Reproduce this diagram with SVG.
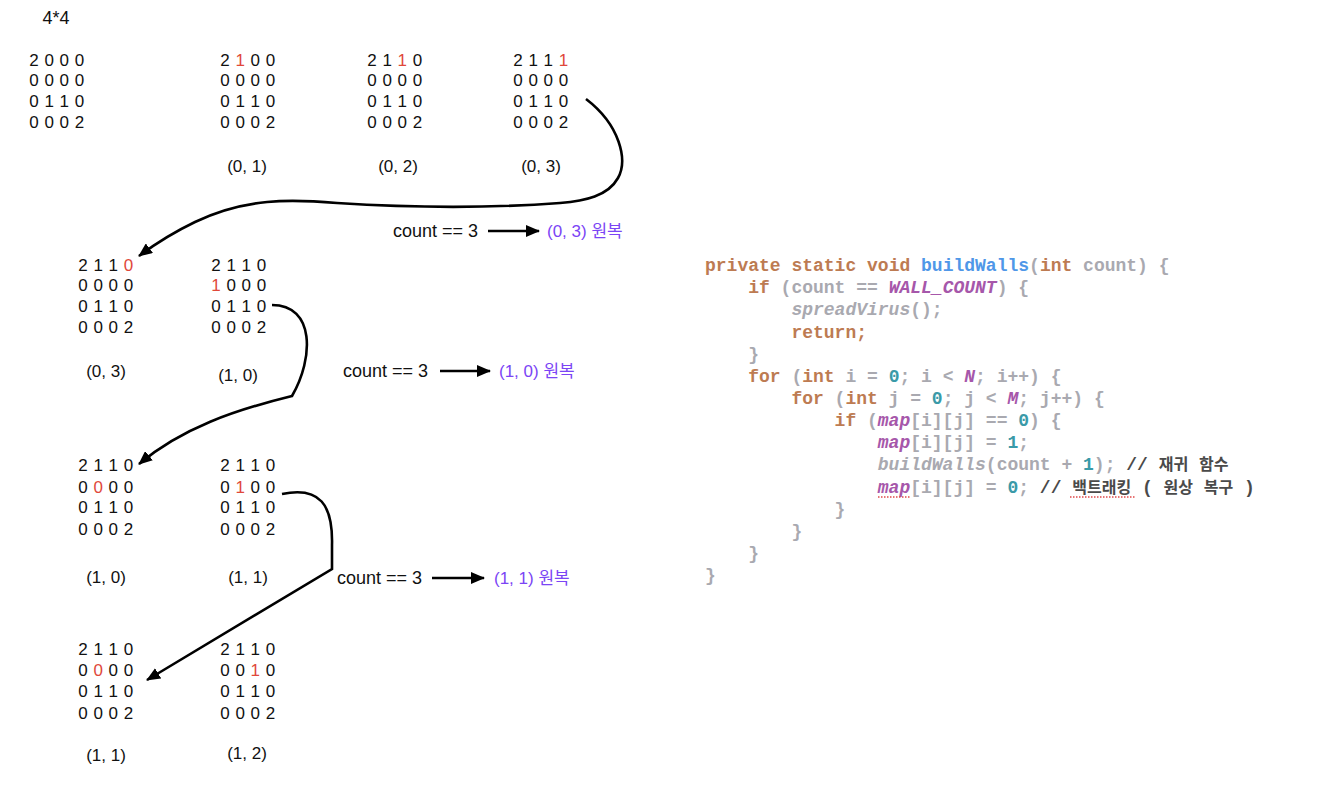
<svg xmlns="http://www.w3.org/2000/svg" width="1330" height="800" viewBox="0 0 1330 800">
<style>
.m{font-family:"Liberation Sans",Arial,sans-serif;font-size:17px;fill:#111;text-anchor:middle;letter-spacing:0.5px}
.lb{font-family:"Liberation Sans",Arial,sans-serif;font-size:17px;fill:#111;text-anchor:middle}
.r{fill:#e0483a}
.cnt{font-family:"Liberation Sans",Arial,sans-serif;font-size:18px;fill:#111}
.pu{font-family:"Liberation Sans","Noto Sans CJK KR",sans-serif;font-size:17px;fill:#7b45f5}
.code{font-family:"Liberation Mono","Courier New",monospace;font-size:18px;font-weight:bold;white-space:pre}
.k{fill:#bd7b52}
.f{fill:#4f97e8}
.g{fill:#a9a9b0}
.it{fill:#a9a9b0;font-style:italic}
.p{fill:#a657aa;font-style:italic}
.n{fill:#3a9aa8}
.c{fill:#4a4a4a}
.ko{font-family:"Noto Sans CJK KR",sans-serif;font-size:16px;fill:#4a4a4a}
.conn path,.conn line{fill:none;stroke:#000;stroke-width:2.6}
</style>
<defs>
<marker id="ah" viewBox="0 0 14 12" refX="13" refY="6" markerWidth="14" markerHeight="12" markerUnits="userSpaceOnUse" orient="auto">
<path d="M0,0 L14,6 L0,12 z" fill="#000"/>
</marker>
</defs>
<rect width="1330" height="800" fill="#fff"/>

<text x="56" y="24" class="lb" style="font-size:18px">4*4</text>

<g id="m0">
<text class="m" x="57" y="66">2 0 0 0</text>
<text class="m" x="57" y="86">0 0 0 0</text>
<text class="m" x="57" y="107">0 1 1 0</text>
<text class="m" x="57" y="128">0 0 0 2</text>
</g>
<g id="m01">
<text class="m" x="248" y="66">2 <tspan class="r">1</tspan> 0 0</text>
<text class="m" x="248" y="86">0 0 0 0</text>
<text class="m" x="248" y="107">0 1 1 0</text>
<text class="m" x="248" y="128">0 0 0 2</text>
<text class="lb" x="247" y="172">(0, 1)</text>
</g>
<g id="m02">
<text class="m" x="395" y="66">2 1 <tspan class="r">1</tspan> 0</text>
<text class="m" x="395" y="86">0 0 0 0</text>
<text class="m" x="395" y="107">0 1 1 0</text>
<text class="m" x="395" y="128">0 0 0 2</text>
<text class="lb" x="398" y="172">(0, 2)</text>
</g>
<g id="m03">
<text class="m" x="541" y="66">2 1 1 <tspan class="r">1</tspan></text>
<text class="m" x="541" y="86">0 0 0 0</text>
<text class="m" x="541" y="107">0 1 1 0</text>
<text class="m" x="541" y="128">0 0 0 2</text>
<text class="lb" x="541" y="172">(0, 3)</text>
</g>

<g id="m03b">
<text class="m" x="106" y="271">2 1 1 <tspan class="r">0</tspan></text>
<text class="m" x="106" y="291">0 0 0 0</text>
<text class="m" x="106" y="312">0 1 1 0</text>
<text class="m" x="106" y="333">0 0 0 2</text>
<text class="lb" x="106" y="377">(0, 3)</text>
</g>
<g id="m10">
<text class="m" x="239" y="271">2 1 1 0</text>
<text class="m" x="239" y="291"><tspan class="r">1</tspan> 0 0 0</text>
<text class="m" x="239" y="312">0 1 1 0</text>
<text class="m" x="239" y="333">0 0 0 2</text>
<text class="lb" x="238" y="381">(1, 0)</text>
</g>

<g id="m10b">
<text class="m" x="106" y="471">2 1 1 0</text>
<text class="m" x="106" y="493">0 <tspan class="r">0</tspan> 0 0</text>
<text class="m" x="106" y="513">0 1 1 0</text>
<text class="m" x="106" y="535">0 0 0 2</text>
<text class="lb" x="106" y="583">(1, 0)</text>
</g>
<g id="m11">
<text class="m" x="248" y="471">2 1 1 0</text>
<text class="m" x="248" y="493">0 <tspan class="r">1</tspan> 0 0</text>
<text class="m" x="248" y="513">0 1 1 0</text>
<text class="m" x="248" y="535">0 0 0 2</text>
<text class="lb" x="248" y="583">(1, 1)</text>
</g>

<g id="m11b">
<text class="m" x="106" y="655">2 1 1 0</text>
<text class="m" x="106" y="676">0 <tspan class="r">0</tspan> 0 0</text>
<text class="m" x="106" y="697">0 1 1 0</text>
<text class="m" x="106" y="719">0 0 0 2</text>
<text class="lb" x="106" y="761">(1, 1)</text>
</g>
<g id="m12">
<text class="m" x="248" y="655">2 1 1 0</text>
<text class="m" x="248" y="676">0 0 <tspan class="r">1</tspan> 0</text>
<text class="m" x="248" y="697">0 1 1 0</text>
<text class="m" x="248" y="719">0 0 0 2</text>
<text class="lb" x="247" y="759">(1, 2)</text>
</g>

<g id="note1">
<text class="cnt" x="393" y="237">count == 3</text>
<text class="pu" x="547" y="237">(0, 3) 원복</text>
</g>
<g id="note2">
<text class="cnt" x="343" y="377">count == 3</text>
<text class="pu" x="499" y="377">(1, 0) 원복</text>
</g>
<g id="note3">
<text class="cnt" x="337" y="584">count == 3</text>
<text class="pu" x="494" y="584">(1, 1) 원복</text>
</g>

<g id="connectors" class="conn">
<path d="M586 99 C620 125, 628 160, 618 178 C608 196, 585 201, 560 203 C480 209, 400 207, 337 203 C290 199, 245 198, 195 222 C170 234, 155 244, 139 256" marker-end="url(#ah)"/>
<path d="M272 305 C315 305, 314 358, 292 396 C235 410, 182 428, 139 464" marker-end="url(#ah)"/>
<path d="M282 494 C320 486, 333 505, 332 545 L332 569 L147 680" marker-end="url(#ah)"/>
<line x1="488" y1="231" x2="539" y2="231" marker-end="url(#ah)"/>
<line x1="440" y1="371" x2="490" y2="371" marker-end="url(#ah)"/>
<line x1="432" y1="578" x2="484" y2="578" marker-end="url(#ah)"/>
</g>

<g id="code" class="code" xml:space="preserve">
<text x="705" y="271"><tspan class="k">private static void </tspan><tspan class="f">buildWalls</tspan><tspan class="g">(</tspan><tspan class="k">int</tspan><tspan class="g"> count) {</tspan></text>
<text x="748.2" y="293.2"><tspan class="k">if</tspan><tspan class="g"> (count == </tspan><tspan class="p">WALL_COUNT</tspan><tspan class="g">) {</tspan></text>
<text x="791.4" y="315.3"><tspan class="it">spreadVirus</tspan><tspan class="g">();</tspan></text>
<text x="791.4" y="337.5"><tspan class="k">return;</tspan></text>
<text x="748.2" y="359.6"><tspan class="g">}</tspan></text>
<text x="748.2" y="381.8"><tspan class="k">for</tspan><tspan class="g"> (</tspan><tspan class="k">int</tspan><tspan class="g"> i = </tspan><tspan class="n">0</tspan><tspan class="g">; i &lt; </tspan><tspan class="p">N</tspan><tspan class="g">; i++) {</tspan></text>
<text x="791.4" y="403.9"><tspan class="k">for</tspan><tspan class="g"> (</tspan><tspan class="k">int</tspan><tspan class="g"> j = </tspan><tspan class="n">0</tspan><tspan class="g">; j &lt; </tspan><tspan class="p">M</tspan><tspan class="g">; j++) {</tspan></text>
<text x="834.6" y="426"><tspan class="k">if</tspan><tspan class="g"> (</tspan><tspan class="p">map</tspan><tspan class="g">[i][j] == </tspan><tspan class="n">0</tspan><tspan class="g">) {</tspan></text>
<text x="877.8" y="448.2"><tspan class="p">map</tspan><tspan class="g">[i][j] = </tspan><tspan class="n">1</tspan><tspan class="g">;</tspan></text>
<text x="877.8" y="470.3"><tspan class="it">buildWalls</tspan><tspan class="g">(count + </tspan><tspan class="n">1</tspan><tspan class="g">); </tspan><tspan class="c">// </tspan><tspan class="ko">재귀</tspan><tspan class="c"> </tspan><tspan class="ko">함수</tspan></text>
<text x="877.8" y="492.5"><tspan class="p">map</tspan><tspan class="g">[i][j] = </tspan><tspan class="n">0</tspan><tspan class="g">; </tspan><tspan class="c">// </tspan><tspan class="ko">백트래킹</tspan><tspan class="c"> ( </tspan><tspan class="ko">원상</tspan><tspan class="c"> </tspan><tspan class="ko">복구</tspan><tspan class="c"> )</tspan></text>
<text x="834.6" y="514.7"><tspan class="g">}</tspan></text>
<text x="791.4" y="536.8"><tspan class="g">}</tspan></text>
<text x="748.2" y="559"><tspan class="g">}</tspan></text>
<text x="705" y="581.1"><tspan class="g">}</tspan></text>
</g>
<g id="spell" fill="none" stroke="#e04a4a" stroke-width="1.4" stroke-dasharray="1.5 1.5">
<line x1="878" y1="497" x2="911" y2="497"/>
<line x1="1070" y1="497" x2="1135" y2="497"/>
</g>
</svg>
